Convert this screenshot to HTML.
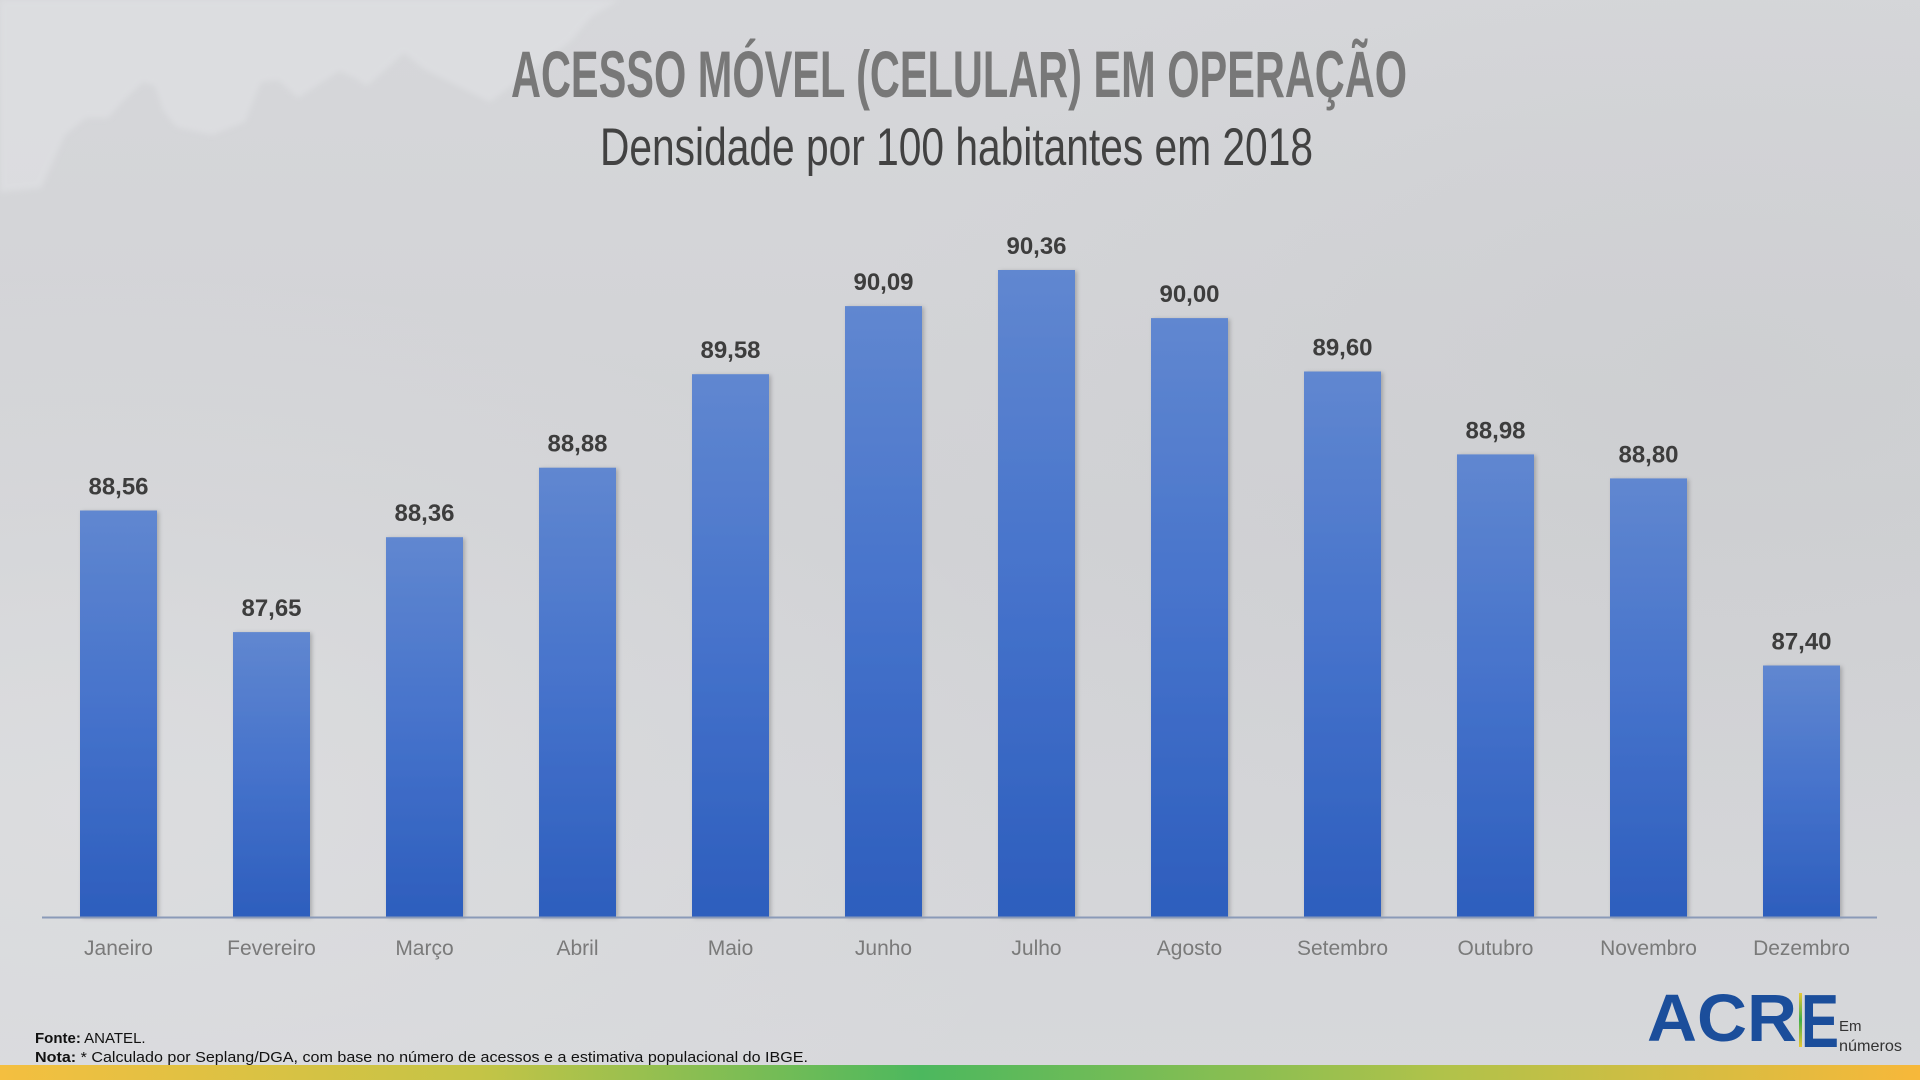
<!DOCTYPE html>
<html>
<head>
<meta charset="utf-8">
<style>
html,body{margin:0;padding:0;width:1920px;height:1080px;overflow:hidden;background:#d4d5d8;}
svg{display:block;}
text{font-family:"Liberation Sans",sans-serif;}
</style>
</head>
<body>
<svg width="1920" height="1080" viewBox="0 0 1920 1080" xmlns="http://www.w3.org/2000/svg">
  <defs>
    <linearGradient id="bg" x1="0" y1="0" x2="0" y2="1">
      <stop offset="0" stop-color="#d6d7da"/>
      <stop offset="0.5" stop-color="#d1d2d5"/>
      <stop offset="1" stop-color="#d7d8db"/>
    </linearGradient>
    <radialGradient id="rl" cx="0.05" cy="0.75" r="0.5">
      <stop offset="0" stop-color="#dfe0e2" stop-opacity="0.7"/>
      <stop offset="1" stop-color="#dfe0e2" stop-opacity="0"/>
    </radialGradient>
    <radialGradient id="rr" cx="0.9" cy="0.35" r="0.45">
      <stop offset="0" stop-color="#c9cacd" stop-opacity="0.5"/>
      <stop offset="1" stop-color="#c9cacd" stop-opacity="0"/>
    </radialGradient>
    <linearGradient id="bar" x1="0" y1="0" x2="0" y2="1">
      <stop offset="0" stop-color="#6087d0"/>
      <stop offset="0.5" stop-color="#4572cb"/>
      <stop offset="1" stop-color="#2d5ebd"/>
    </linearGradient>
    <linearGradient id="stripe" x1="0" y1="0" x2="1" y2="0">
      <stop offset="0" stop-color="#f4bf40"/>
      <stop offset="0.25" stop-color="#c4c446"/>
      <stop offset="0.48" stop-color="#4cb85e"/>
      <stop offset="0.75" stop-color="#b0c24a"/>
      <stop offset="1" stop-color="#f7b83a"/>
    </linearGradient>
    <linearGradient id="vline" x1="0" y1="0" x2="0" y2="1">
      <stop offset="0" stop-color="#e8c732"/>
      <stop offset="0.5" stop-color="#3fae4a"/>
      <stop offset="1" stop-color="#e8c732"/>
    </linearGradient>
    <filter id="sh" x="-20%" y="-5%" width="140%" height="110%">
      <feDropShadow dx="2" dy="1" stdDeviation="2" flood-color="#000" flood-opacity="0.22"/>
    </filter>
    <filter id="blur"><feGaussianBlur stdDeviation="3"/></filter>
  </defs>

  <!-- background -->
  <rect x="0" y="0" width="1920" height="1080" fill="url(#bg)"/>
  <rect x="0" y="0" width="1920" height="1080" fill="url(#rl)"/>
  <rect x="0" y="0" width="1920" height="1080" fill="url(#rr)"/>
  <polygon fill="#e1e2e5" opacity="0.6" filter="url(#blur)" points="0,0 620,0 592,16 571,41 490,102 424,69 404,53 367,86 355,78 339,71 298,98 278,80 261,82 245,122 212,135 176,127 163,110 155,86 143,82 122,102 108,118 86,118 65,135 41,188 0,192"/>

  <!-- title -->
  <text x="511" y="97" font-size="66" font-weight="bold" fill="#787878" textLength="896" lengthAdjust="spacingAndGlyphs">ACESSO MÓVEL (CELULAR) EM OPERAÇÃO</text>
  <text x="600" y="165" font-size="53" fill="#424242" textLength="713" lengthAdjust="spacingAndGlyphs">Densidade por 100 habitantes em 2018</text>

  <!-- bars -->
  <g filter="url(#sh)" fill="url(#bar)">
    <rect x="80" y="510.5" width="77" height="406.5"/>
    <rect x="233" y="632.1" width="77" height="284.9"/>
    <rect x="386" y="537.2" width="77" height="379.8"/>
    <rect x="539" y="467.7" width="77" height="449.3"/>
    <rect x="692" y="374.2" width="77" height="542.8"/>
    <rect x="845" y="306.1" width="77" height="610.9"/>
    <rect x="998" y="270" width="77" height="647"/>
    <rect x="1151" y="318.1" width="77" height="598.9"/>
    <rect x="1304" y="371.5" width="77" height="545.5"/>
    <rect x="1457" y="454.4" width="77" height="462.6"/>
    <rect x="1610" y="478.4" width="77" height="438.6"/>
    <rect x="1763" y="665.5" width="77" height="251.5"/>
  </g>

  <!-- axis -->
  <line x1="42" y1="917.5" x2="1877" y2="917.5" stroke="#8a9ab8" stroke-width="2"/>

  <!-- value labels -->
  <g font-size="24" font-weight="bold" fill="#3d3d3d" text-anchor="middle">
    <text x="118.5" y="494.5">88,56</text>
    <text x="271.5" y="616.1">87,65</text>
    <text x="424.5" y="521.2">88,36</text>
    <text x="577.5" y="451.7">88,88</text>
    <text x="730.5" y="358.2">89,58</text>
    <text x="883.5" y="290.1">90,09</text>
    <text x="1036.5" y="254">90,36</text>
    <text x="1189.5" y="302.1">90,00</text>
    <text x="1342.5" y="355.5">89,60</text>
    <text x="1495.5" y="438.4">88,98</text>
    <text x="1648.5" y="462.4">88,80</text>
    <text x="1801.5" y="649.5">87,40</text>
  </g>

  <!-- month labels -->
  <g font-size="21" fill="#7a7a7a" text-anchor="middle">
    <text x="118.5" y="955">Janeiro</text>
    <text x="271.5" y="955">Fevereiro</text>
    <text x="424.5" y="955">Março</text>
    <text x="577.5" y="955">Abril</text>
    <text x="730.5" y="955">Maio</text>
    <text x="883.5" y="955">Junho</text>
    <text x="1036.5" y="955">Julho</text>
    <text x="1189.5" y="955">Agosto</text>
    <text x="1342.5" y="955">Setembro</text>
    <text x="1495.5" y="955">Outubro</text>
    <text x="1648.5" y="955">Novembro</text>
    <text x="1801.5" y="955">Dezembro</text>
  </g>

  <!-- footer notes -->
  <text x="35" y="1043" font-size="15" fill="#111"><tspan font-weight="bold">Fonte:</tspan> ANATEL.</text>
  <text x="35" y="1062" font-size="15" fill="#111" textLength="773" lengthAdjust="spacingAndGlyphs"><tspan font-weight="bold">Nota:</tspan> * Calculado por Seplang/DGA, com base no número de acessos e a estimativa populacional do IBGE.</text>

  <!-- logo -->
  <text x="1647" y="1041" font-size="67" font-weight="bold" fill="#1b4e9b" textLength="150" lengthAdjust="spacingAndGlyphs">ACR</text>
  <rect x="1799" y="993" width="3" height="54" fill="url(#vline)"/>
  <text x="1801" y="1047" font-size="75" font-weight="bold" fill="#1b4e9b" textLength="38" lengthAdjust="spacingAndGlyphs">E</text>
  <text x="1839" y="1031" font-size="15" fill="#333">Em</text>
  <text x="1839" y="1051" font-size="16" fill="#333" textLength="63" lengthAdjust="spacingAndGlyphs">números</text>

  <!-- bottom stripe -->
  <rect x="0" y="1065" width="1920" height="15" fill="url(#stripe)"/>
</svg>
</body>
</html>
